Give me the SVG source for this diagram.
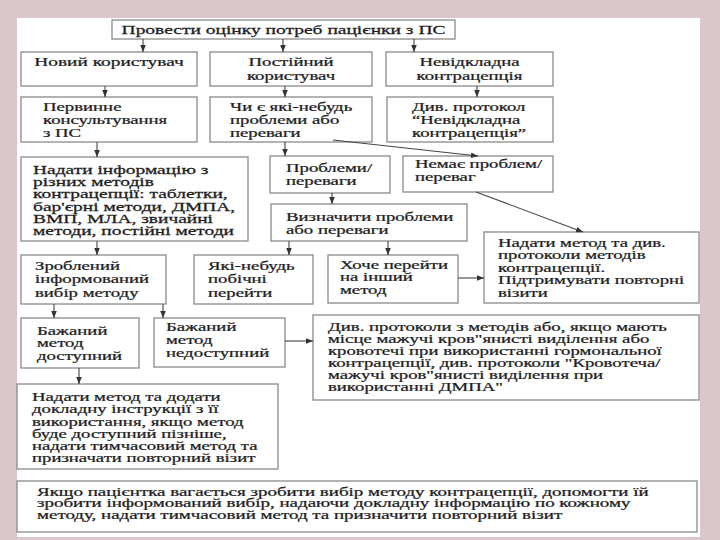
<svg xmlns="http://www.w3.org/2000/svg" width="720" height="540" viewBox="0 0 720 540">
<style>
.bg{fill:#dbc6cc}
.panel{fill:#ffffff}
.box{fill:#ffffff;stroke:#8a8a8a;stroke-width:1.3}
.t{font-family:"Liberation Serif","Times New Roman",serif;font-size:12.5px;fill:#1e1e1e;stroke:#1e1e1e;stroke-width:0.25}
.s{font-size:12px}
.c{text-anchor:middle}
.ln{fill:none;stroke:#444;stroke-width:1.1;marker-end:url(#ah)}
</style>
<defs>
<marker id="ah" viewBox="0 0 10 10" refX="10" refY="5" markerWidth="7" markerHeight="7" markerUnits="userSpaceOnUse" orient="auto"><path d="M0,1 L10,5 L0,9 z" fill="#333"/></marker>
</defs>
<rect class="bg" x="0" y="0" width="720" height="540"/>
<rect class="panel" x="17" y="18" width="683" height="519"/>

<g id="assess"><rect class="box" x="112" y="20" width="343" height="19"/>
<text class="t c" transform="translate(283.5,34) scale(1.56,1)">Провести оцінку потреб пацієнки з ПС</text></g>

<g id="new-user"><rect class="box" x="21" y="52" width="176" height="34"/>
<text class="t c" transform="translate(109,66) scale(1.55,1)">Новий користувач</text></g>

<g id="regular-user"><rect class="box" x="210" y="52" width="162" height="34"/>
<text class="t c" transform="translate(291,66) scale(1.5,1)"><tspan x="0">Постійний</tspan><tspan x="0" dy="14">користувач</tspan></text></g>

<g id="emergency"><rect class="box" x="386" y="52" width="167" height="34"/>
<text class="t c" transform="translate(469.5,66) scale(1.5,1)"><tspan x="0">Невідкладна</tspan><tspan x="0" dy="14">контрацепція</tspan></text></g>

<g id="primary"><rect class="box" x="21" y="97" width="176" height="45"/>
<text class="t" transform="translate(43,111) scale(1.5,1)"><tspan x="0">Первинне</tspan><tspan x="0" dy="13">консультування</tspan><tspan x="0" dy="13">з ПС</tspan></text></g>

<g id="question"><rect class="box" x="210" y="97" width="162" height="45"/>
<text class="t" transform="translate(230,111) scale(1.5,1)"><tspan x="0">Чи є які-небудь</tspan><tspan x="0" dy="13">проблеми або</tspan><tspan x="0" dy="13">переваги</tspan></text></g>

<g id="see-emergency"><rect class="box" x="387" y="97" width="166" height="45"/>
<text class="t" transform="translate(412,111) scale(1.5,1)"><tspan x="0">Див. протокол</tspan><tspan x="0" dy="13">“Невідкладна</tspan><tspan x="0" dy="13">контрацепція”</tspan></text></g>

<g id="info"><rect class="box" x="21" y="157" width="227" height="84"/>
<text class="t s" transform="translate(33,173.5) scale(1.62,1)"><tspan x="0">Надати інформацію з</tspan><tspan x="0" dy="12.4">різних методів</tspan><tspan x="0" dy="12.4">контрацепції: таблетки,</tspan><tspan x="0" dy="12.4">бар'єрні методи, ДМПА,</tspan><tspan x="0" dy="12.4">ВМП, МЛА, звичайні</tspan><tspan x="0" dy="12.4">методи, постійні методи</tspan></text></g>

<g id="problems"><rect class="box" x="270" y="156" width="120" height="37"/>
<text class="t" transform="translate(286,172) scale(1.5,1)"><tspan x="0">Проблеми/</tspan><tspan x="0" dy="13">переваги</tspan></text></g>

<g id="no-problems"><rect class="box" x="403" y="156" width="150" height="36"/>
<text class="t" transform="translate(415,168) scale(1.5,1)"><tspan x="0">Немає проблем/</tspan><tspan x="0" dy="13">переваг</tspan></text></g>

<g id="define"><rect class="box" x="271" y="204" width="196" height="37"/>
<text class="t" transform="translate(286,221) scale(1.5,1)"><tspan x="0">Визначити проблеми</tspan><tspan x="0" dy="13">або переваги</tspan></text></g>

<g id="give-method"><rect class="box" x="484" y="232" width="215" height="71"/>
<text class="t" transform="translate(498,247) scale(1.5,1)"><tspan x="0">Надати метод та див.</tspan><tspan x="0" dy="12.5">протоколи методів</tspan><tspan x="0" dy="12.5">контрацепції.</tspan><tspan x="0" dy="12.5">Підтримувати повторні</tspan><tspan x="0" dy="12.5">візити</tspan></text></g>

<g id="made-choice"><rect class="box" x="21" y="255" width="145" height="49"/>
<text class="t" transform="translate(35,270) scale(1.5,1)"><tspan x="0">Зроблений</tspan><tspan x="0" dy="13.5">інформований</tspan><tspan x="0" dy="13.5">вибір методу</tspan></text></g>

<g id="side-effects"><rect class="box" x="194" y="255" width="119" height="49"/>
<text class="t" transform="translate(208,270) scale(1.5,1)"><tspan x="0">Які-небудь</tspan><tspan x="0" dy="13.5">побічні</tspan><tspan x="0" dy="13.5">перейти</tspan></text></g>

<g id="switch"><rect class="box" x="328" y="255" width="130" height="48"/>
<text class="t" transform="translate(340,269) scale(1.5,1)"><tspan x="0">Хоче перейти</tspan><tspan x="0" dy="12.5">на інший</tspan><tspan x="0" dy="12.5">метод</tspan></text></g>

<g id="available"><rect class="box" x="21" y="318" width="118" height="50"/>
<text class="t" transform="translate(37,335) scale(1.5,1)"><tspan x="0">Бажаний</tspan><tspan x="0" dy="12.5">метод</tspan><tspan x="0" dy="12.5">доступний</tspan></text></g>

<g id="unavailable"><rect class="box" x="154" y="318" width="131" height="49"/>
<text class="t" transform="translate(166,331) scale(1.5,1)"><tspan x="0">Бажаний</tspan><tspan x="0" dy="13">метод</tspan><tspan x="0" dy="13">недоступний</tspan></text></g>

<g id="see-protocols"><rect class="box" x="313" y="315" width="386" height="85"/>
<text class="t" transform="translate(328,331) scale(1.5,1)"><tspan x="0">Див. протоколи з методів або, якщо мають</tspan><tspan x="0" dy="12">місце мажучі кров"янисті виділення або</tspan><tspan x="0" dy="12">кровотечі при використанні гормональної</tspan><tspan x="0" dy="12">контрацепції, див. протоколи "Кровотеча/</tspan><tspan x="0" dy="12">мажучі кров"янисті виділення при</tspan><tspan x="0" dy="12">використанні ДМПА"</tspan></text></g>

<g id="give-instructions"><rect class="box" x="17" y="384" width="261" height="85"/>
<text class="t" transform="translate(32,401) scale(1.5,1)"><tspan x="0">Надати метод та додати</tspan><tspan x="0" dy="12.3">докладну інструкції з її</tspan><tspan x="0" dy="12.3">використання, якщо метод</tspan><tspan x="0" dy="12.3">буде доступний пізніше,</tspan><tspan x="0" dy="12.3">надати тимчасовий метод та</tspan><tspan x="0" dy="12.3">призначати повторний візит</tspan></text></g>

<g id="hesitant"><rect class="box" x="17" y="481" width="680" height="51"/>
<text class="t s" transform="translate(37,496) scale(1.58,1)"><tspan x="0">Якщо пацієнтка вагається зробити вибір методу контрацепції, допомогти їй</tspan><tspan x="0" dy="11.5">зробити інформований вибір, надаючи докладну інформацію по кожному</tspan><tspan x="0" dy="11.5">методу, надати тимчасовий метод та призначити повторний візит</tspan></text></g>

<g id="connectors">
<line class="ln" x1="143" y1="39" x2="143" y2="52"/>
<line class="ln" x1="283" y1="39" x2="283" y2="52"/>
<line class="ln" x1="414" y1="39" x2="414" y2="52"/>
<line class="ln" x1="105" y1="86" x2="105" y2="97"/>
<line class="ln" x1="285" y1="86" x2="285" y2="97"/>
<line class="ln" x1="477" y1="86" x2="477" y2="97"/>
<line class="ln" x1="97" y1="142" x2="97" y2="157"/>
<line class="ln" x1="285" y1="142" x2="285" y2="156"/>
<line class="ln" x1="333" y1="140" x2="478" y2="156"/>
<line class="ln" x1="476" y1="192" x2="583" y2="232"/>
<line class="ln" x1="332" y1="193" x2="332" y2="204"/>
<line class="ln" x1="289" y1="241" x2="289" y2="255"/>
<line class="ln" x1="388" y1="241" x2="388" y2="255"/>
<line class="ln" x1="97" y1="241" x2="97" y2="255"/>
<line class="ln" x1="54" y1="304" x2="54" y2="318"/>
<line class="ln" x1="163" y1="304" x2="163" y2="318"/>
<line class="ln" x1="458" y1="278" x2="484" y2="278"/>
<line class="ln" x1="285" y1="341" x2="313" y2="341"/>
<line class="ln" x1="79" y1="368" x2="79" y2="384"/>
</g>
</svg>
